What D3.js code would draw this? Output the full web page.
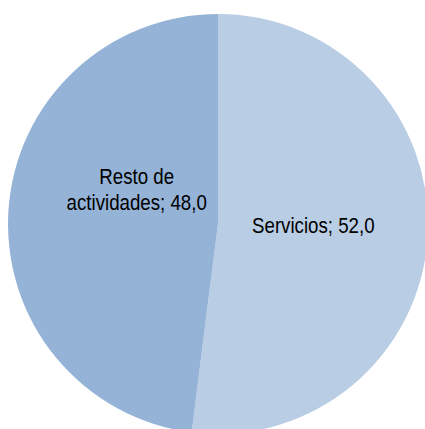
<!DOCTYPE html>
<html>
<head>
<meta charset="utf-8">
<script src="https://cdn.jsdelivr.net/npm/d3@7"></script>
<style>
  html, body { margin: 0; padding: 0; background: #fff; overflow: hidden; }
  svg { display: block; }
  .label { font-family: "Liberation Sans Narrow", "Arial Narrow", "Liberation Sans", Arial, sans-serif; font-size: 22px; fill: #000; }
</style>
</head>
<body>
<div id="chart"></div>
<script>
// data
const categories = ["Servicios", "Resto de actividades"];
const values = [52.0, 48.0];
const labelLines = [["Servicios; 52,0"], ["Resto de", "actividades; 48,0"]];

const width = 425;
const height = 429;
const cx = 218;
const cy = 224;
const radius = 210;
const colors = ["#b9cde5", "#95b3d7"];

const svg = d3
  .select("#chart")
  .append("svg")
  .attr("width", width)
  .attr("height", height);

const g = svg.append("g").attr("transform", `translate(${cx}, ${cy})`);

const pie = d3.pie().sort(null).value((d) => d);
const arcs = pie(values);

const arc = d3.arc().innerRadius(0).outerRadius(radius);
const labelArc = d3.arc().innerRadius(radius * 0.45).outerRadius(radius * 0.45);

g.selectAll("path")
  .data(arcs)
  .enter()
  .append("path")
  .attr("d", arc)
  .attr("fill", (d, i) => colors[i])
  .attr("stroke", "none");

// label nudges (Excel "best fit" placement)
const nudge = [
  [1, -5],
  [13, -29],
];
const lineHeight = 26;
// no narrow font installed, so squeeze the regular one
const squeeze = 0.85;

arcs.forEach((d, i) => {
  const [x, y] = labelArc.centroid(d);
  const lines = labelLines[i];
  const top = y + nudge[i][1] - ((lines.length - 1) * lineHeight) / 2 + 8;
  const t = g
    .append("text")
    .attr("class", "label")
    .attr("text-anchor", "middle")
    .attr("transform", `translate(${x + nudge[i][0]}, 0) scale(${squeeze}, 1)`);
  lines.forEach((line, j) => {
    t.append("tspan")
      .attr("x", 0)
      .attr("y", top + j * lineHeight)
      .text(line);
  });
});
</script>
</body>
</html>
